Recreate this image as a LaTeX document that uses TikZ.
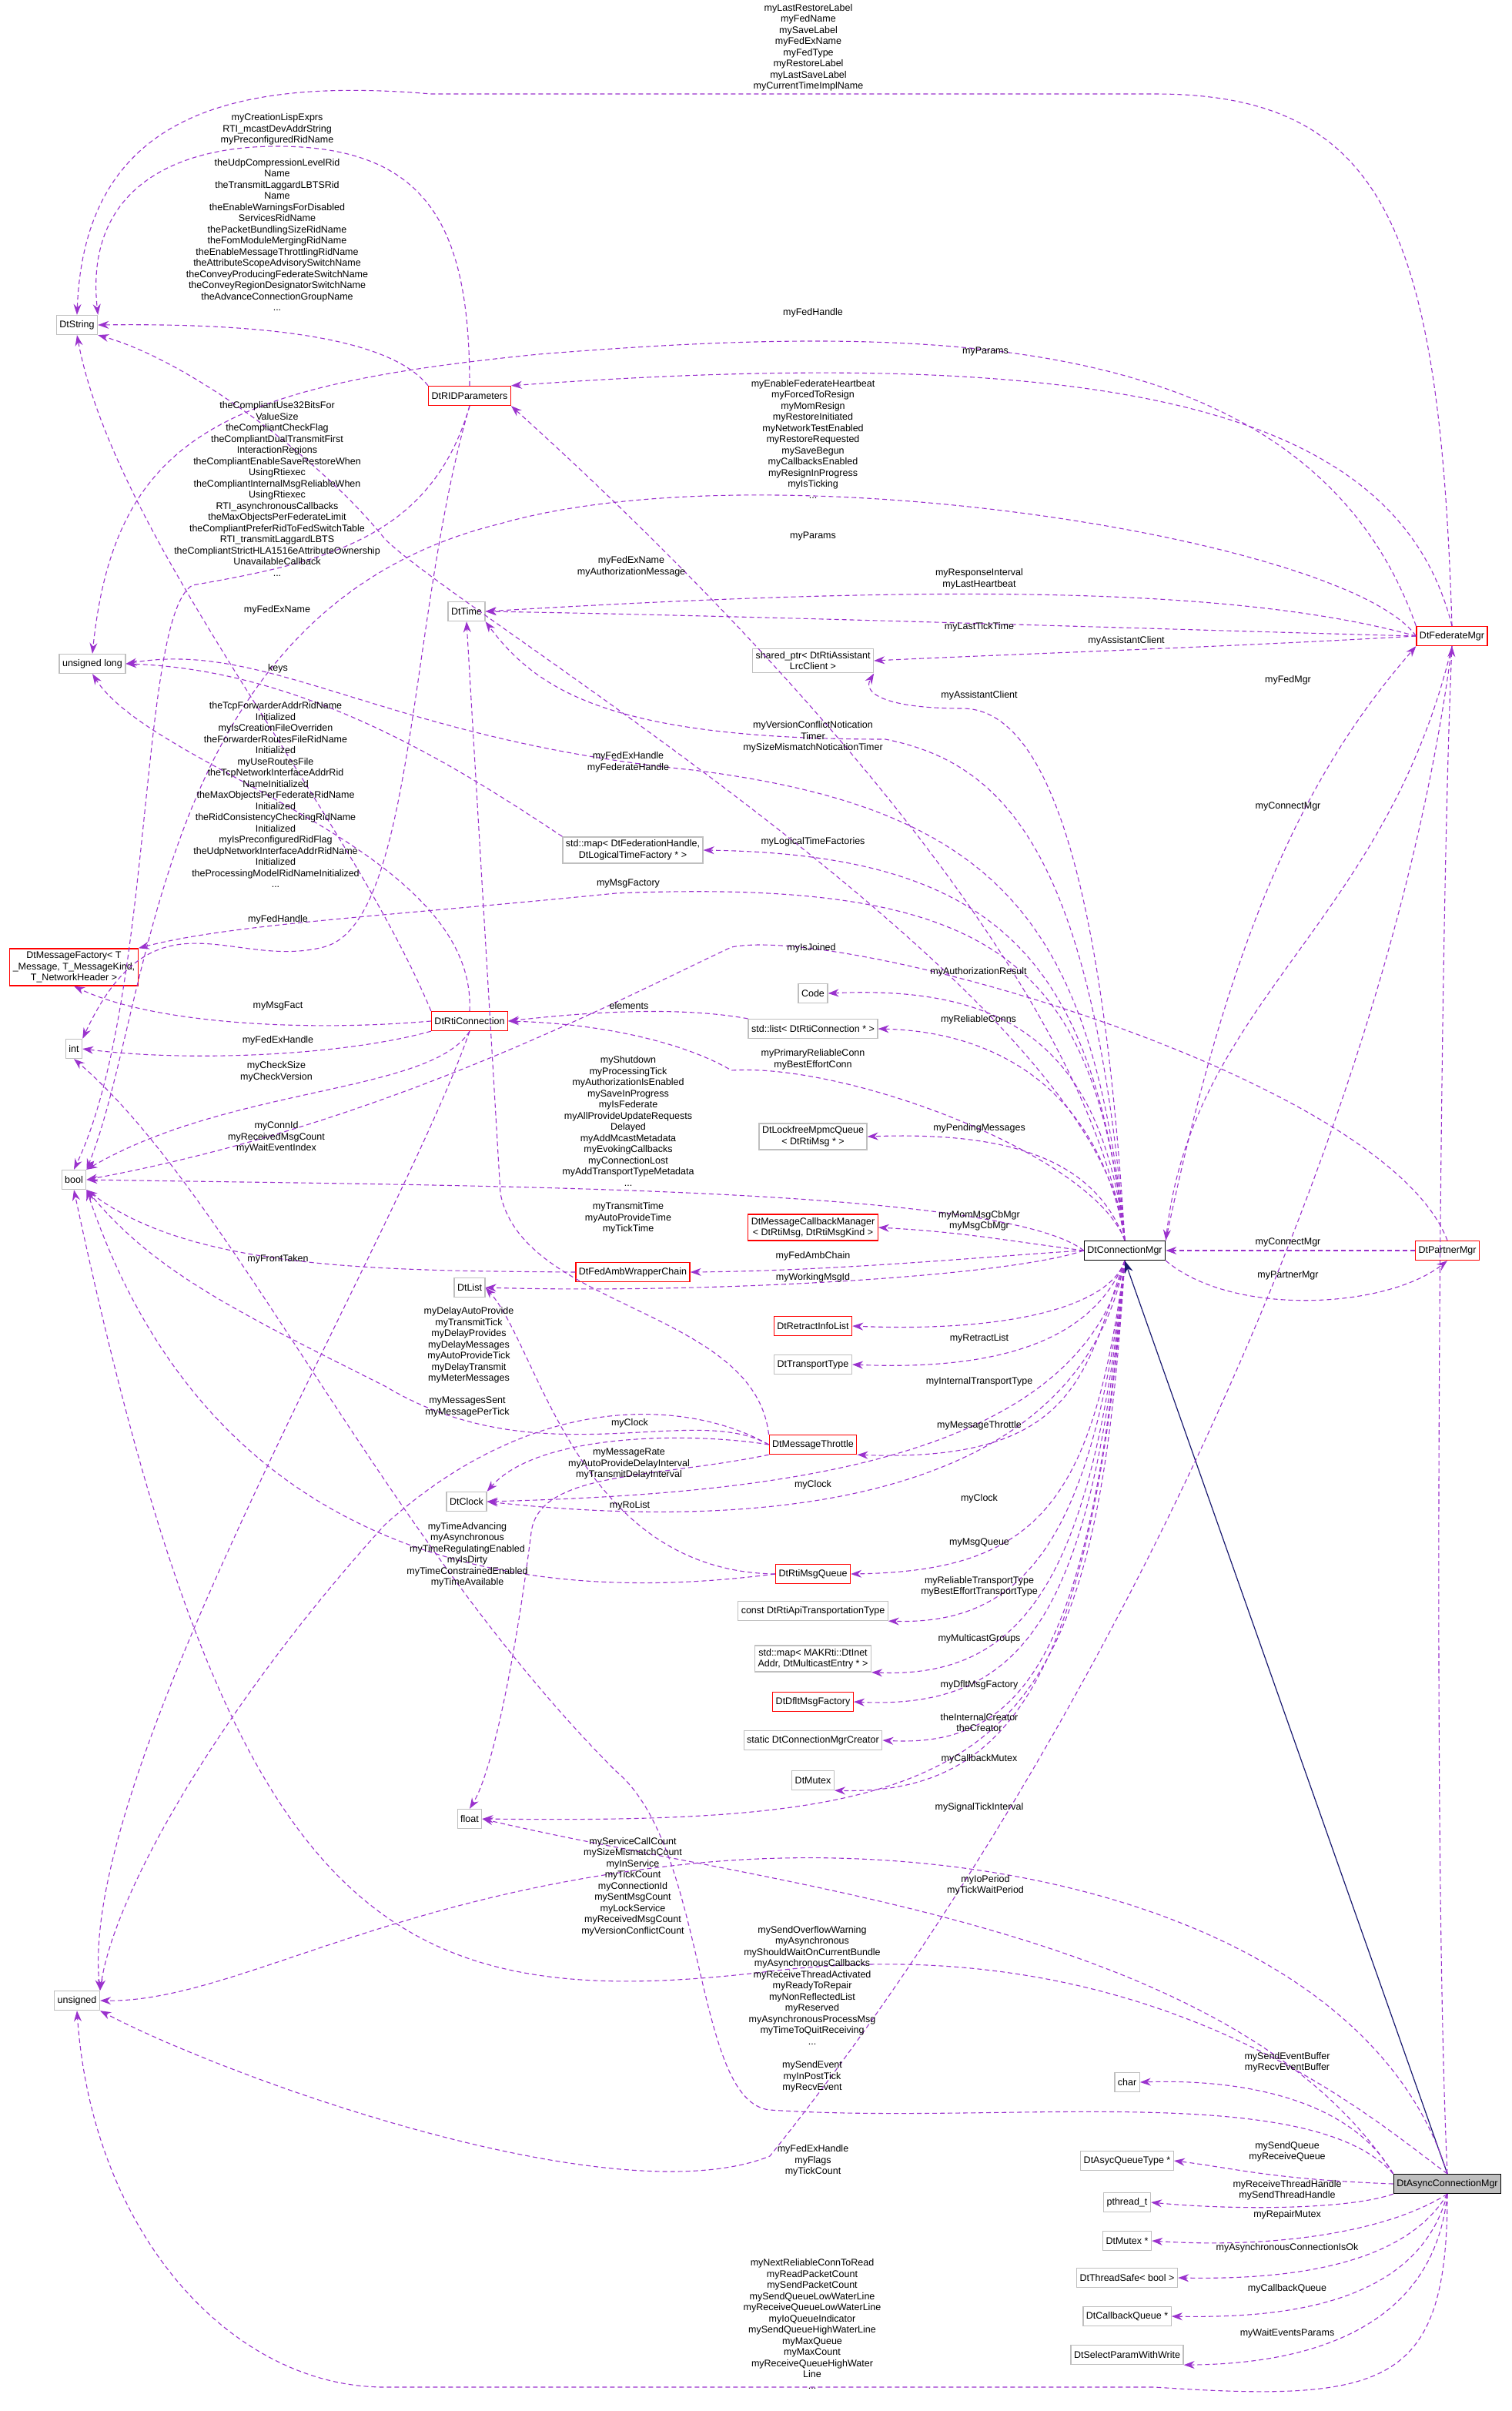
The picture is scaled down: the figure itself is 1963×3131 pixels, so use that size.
\documentclass[tikz,border=0pt]{standalone}
\usepackage{fontspec}
\setmainfont{Liberation Sans}
\usetikzlibrary{arrows.meta}
\definecolor{vio}{HTML}{9A32CD}
\definecolor{nav}{HTML}{191970}
\definecolor{gb}{HTML}{BFBFBF}
\begin{document}
\begin{tikzpicture}[x=1pt,y=-1pt,
 base/.style={draw, line width=1.3pt, font=\fontsize{12.5}{14.5}\selectfont, inner sep=4pt, minimum height=25pt, align=center, fill=white},
 box/.style={base, draw=gb},
 rbox/.style={base, draw=red},
 e/.style={draw=vio, dash pattern=on 6pt off 4pt, line width=1.1pt, -{Stealth[length=14pt,width=10pt]}},
 lab/.style={font=\fontsize{12.5}{14.5}\selectfont, align=center, inner sep=0pt}]
\useasboundingbox (0,0) rectangle (1963,3131);
% nodes
\node[box] (DtString) at (100,422) {DtString};
\node[rbox] (RID) at (610,514) {DtRIDParameters};
\node[box] (DtTime) at (606,794) {DtTime};
\node[box] (ulong) at (120,862) {unsigned long};
\node[box] (shptr) at (1056,858) {shared\_ptr< DtRtiAssistant\\LrcClient >};
\node[rbox] (FedMgr) at (1886,826) {DtFederateMgr};
\node[box] (mapFH) at (822,1104) {std::map< DtFederationHandle,\\DtLogicalTimeFactory * >};
\node[rbox] (MsgFac) at (96,1256) {DtMessageFactory< T\\\_Message, T\_MessageKind,\\T\_NetworkHeader >};
\node[box] (Code) at (1056,1290) {Code};
\node[box] (list) at (1056,1336) {std::list< DtRtiConnection * >};
\node[rbox] (RtiConn) at (610,1326) {DtRtiConnection};
\node[box] (int) at (96,1362) {int};
\node[box] (lockfree) at (1056,1476) {DtLockfreeMpmcQueue\\< DtRtiMsg * >};
\node[box] (bool) at (96,1532) {bool};
\node[rbox] (cbm) at (1056,1594) {DtMessageCallbackManager\\< DtRtiMsg, DtRtiMsgKind >};
\node[base, draw=black] (ConnMgr) at (1461,1624) {DtConnectionMgr};
\node[rbox] (Partner) at (1880,1624) {DtPartnerMgr};
\node[rbox] (FedAmb) at (822,1652) {DtFedAmbWrapperChain};
\node[box] (DtList) at (610,1672) {DtList};
\node[rbox] (Retract) at (1056,1722) {DtRetractInfoList};
\node[box] (Transport) at (1056,1772) {DtTransportType};
\node[rbox] (Throttle) at (1056,1876) {DtMessageThrottle};
\node[box] (Clock) at (606,1950) {DtClock};
\node[rbox] (MsgQueue) at (1056,2044) {DtRtiMsgQueue};
\node[box] (constApi) at (1056,2092) {const DtRtiApiTransportationType};
\node[box] (mapInet) at (1056,2154) {std::map< MAKRti::DtInet\\Addr, DtMulticastEntry * >};
\node[rbox] (Dflt) at (1056,2210) {DtDfltMsgFactory};
\node[box] (creator) at (1056,2260) {static DtConnectionMgrCreator};
\node[box] (mutex) at (1056,2312) {DtMutex};
\node[box] (float) at (610,2362) {float};
\node[box] (unsigned) at (100,2598) {unsigned};
\node[box] (char) at (1464,2704) {char};
\node[box] (asyq) at (1464,2806) {DtAsycQueueType *};
\node[base, draw=black, fill=gb] (Async) at (1880,2836) {DtAsyncConnectionMgr};
\node[box] (pthread) at (1464,2860) {pthread\_t};
\node[box] (mutexp) at (1464,2910) {DtMutex *};
\node[box] (tsafe) at (1464,2958) {DtThreadSafe< bool >};
\node[box] (cbq) at (1464,3008) {DtCallbackQueue *};
\node[box] (select) at (1464,3058) {DtSelectParamWithWrite};
% edges
\draw[e] (FedMgr.north) .. controls (1870,300) and (1800,122) .. (1500,122) -- (560,122) .. controls (300,100) and (110,150) .. (DtString.north);
\draw[e] (RID.north) .. controls (610,300) and (560,190) .. (360,190) .. controls (220,190) and (110,250) .. (DtString.north east);
\draw[e] (RID.north west) .. controls (500,430) and (300,420) .. (DtString.east);
\draw[e] (ConnMgr.north) .. controls (1440,1300) and (600,800) .. (500,700) .. controls (420,600) and (250,470) .. (DtString.south east);
\draw[e] (RtiConn.north west) .. controls (450,1050) and (150,700) .. (DtString.south);
\draw[e] (FedMgr.north west) .. controls (1700,420) and (1200,420) .. (700,460) .. controls (300,500) and (150,560) .. (ulong.north);
\draw[e] (FedMgr.north) .. controls (1820,550) and (1500,440) .. (RID.north east);
\draw[e] (ConnMgr.north) .. controls (1400,1200) and (800,650) .. (RID.south east);
\draw[e] (FedMgr.west) .. controls (1750,700) and (1000,580) .. (650,680) .. controls (200,790) and (200,1300) .. (bool.north east);
\draw[e] (RID.south) .. controls (560,700) and (420,730) .. (250,760) .. controls (180,800) and (200,1300) .. (bool.north);
\draw[e] (RID.south) .. controls (530,800) and (540,1200) .. (420,1230) .. controls (300,1260) and (200,1150) .. (int.north east);
\draw[e] (FedMgr.west) .. controls (1600,760) and (1200,760) .. (DtTime.east);
\draw[e] (FedMgr.west) .. controls (1600,820) and (1000,800) .. (DtTime.east);
\draw[e] (FedMgr.west) .. controls (1600,840) and (1300,850) .. (shptr.east);
\draw[e] (ConnMgr.north) .. controls (1430,1100) and (1350,920) .. (1250,920) .. controls (1150,920) and (1120,900) .. (shptr.south east);
\draw[e] (ConnMgr.north) .. controls (1420,1100) and (1300,990) .. (1150,960) .. controls (800,960) and (700,900) .. (DtTime.south east);
\draw[e] (Throttle.north west) .. controls (980,1700) and (680,1700) .. (650,1550) -- (DtTime.south);
\draw[e] (ConnMgr.north) .. controls (1420,1200) and (1300,1050) .. (900,1000) .. controls (500,960) and (350,830) .. (ulong.east);
\draw[e] (mapFH.north west) .. controls (600,1000) and (400,870) .. (ulong.east);
\draw[e] (ConnMgr.north) .. controls (1420,1250) and (1300,1110) .. (mapFH.east);
\draw[e] (ConnMgr.north) .. controls (1420,1250) and (1300,1140) .. (800,1160) .. controls (500,1190) and (300,1200) .. (MsgFac.north east);
\draw[e] (RtiConn.west) .. controls (400,1340) and (200,1330) .. (MsgFac.south);
\draw[e] (RtiConn.south west) .. controls (450,1370) and (250,1380) .. (int.east);
\draw[e] (RtiConn.south) .. controls (560,1420) and (300,1410) .. (bool.north east);
\draw[e] (RtiConn.south) .. controls (520,1600) and (100,2300) .. (unsigned.north east);
\draw[e] (RtiConn.north) .. controls (620,1100) and (200,1000) .. (ulong.south);
\draw[e] (Partner.north) .. controls (1800,1400) and (1100,1200) .. (950,1230) .. controls (800,1300) and (500,1460) .. (bool.east);
\draw[e] (ConnMgr.north) .. controls (1430,1350) and (1300,1280) .. (Code.east);
\draw[e] (list.north west) .. controls (900,1310) and (800,1310) .. (RtiConn.east);
\draw[e] (ConnMgr.north) .. controls (1430,1420) and (1300,1340) .. (list.east);
\draw[e] (ConnMgr.north) .. controls (1420,1500) and (1100,1380) .. (950,1390) .. controls (900,1360) and (800,1330) .. (RtiConn.east);
\draw[e] (ConnMgr.north) .. controls (1420,1500) and (1300,1470) .. (lockfree.east);
\draw[e] (ConnMgr.west) .. controls (1300,1540) and (600,1540) .. (bool.east);
\draw[e] (ConnMgr.west) .. controls (1300,1610) and (1250,1600) .. (cbm.east);
\draw[e] (ConnMgr.west) .. controls (1300,1630) and (1100,1650) .. (FedAmb.east);
\draw[e] (FedAmb.west) .. controls (500,1650) and (250,1650) .. (bool.south east);
\draw[e] (ConnMgr.west) .. controls (1300,1660) and (900,1680) .. (DtList.east);
\draw[e] (ConnMgr.south) .. controls (1440,1700) and (1300,1730) .. (Retract.east);
\draw[e] (ConnMgr.south) .. controls (1420,1740) and (1300,1780) .. (Transport.east);
\draw[e] (ConnMgr.south) .. controls (1410,1780) and (1400,1900) .. (Throttle.south east);
\draw[e] (Throttle.west) .. controls (900,1820) and (700,1920) .. (500,1800) .. controls (300,1700) and (200,1650) .. (bool.south east);
\draw[e] (Throttle.west) .. controls (900,1820) and (700,1800) .. (500,1980) .. controls (300,2200) and (150,2450) .. (unsigned.north east);
\draw[e] (Throttle.west) .. controls (900,1860) and (700,1860) .. (Clock.north east);
\draw[e] (Throttle.south west) .. controls (850,1920) and (700,1910) .. (690,1990) .. controls (670,2150) and (640,2300) .. (float.north);
\draw[e] (ConnMgr.south) .. controls (1400,1900) and (1000,1940) .. (Clock.east);
\draw[e] (ConnMgr.south) .. controls (1400,1950) and (1000,1990) .. (Clock.east);
\draw[e] (MsgQueue.west) .. controls (750,2040) and (700,1750) .. (DtList.east);
\draw[e] (MsgQueue.west) .. controls (800,2070) and (300,2100) .. (bool.south east);
\draw[e] (ConnMgr.south) .. controls (1420,1950) and (1350,2040) .. (MsgQueue.east);
\draw[e] (ConnMgr.south) .. controls (1420,2000) and (1330,2110) .. (constApi.south east);
\draw[e] (ConnMgr.south) .. controls (1420,2050) and (1330,2180) .. (mapInet.south east);
\draw[e] (ConnMgr.south) .. controls (1420,2100) and (1330,2220) .. (Dflt.east);
\draw[e] (ConnMgr.south) .. controls (1420,2150) and (1330,2270) .. (creator.east);
\draw[e] (ConnMgr.south) .. controls (1420,2200) and (1300,2330) .. (mutex.south east);
\draw[e] (ConnMgr.south) .. controls (1420,2300) and (1300,2370) .. (float.east);
\draw[e] (ConnMgr.north east) .. controls (1600,1200) and (1700,1000) .. (FedMgr.south west);
\draw[e] (FedMgr.south) .. controls (1800,1200) and (1550,1300) .. (ConnMgr.north east);
\draw[e] (Partner.west) -- (ConnMgr.east);
\draw[e] (ConnMgr.south east) .. controls (1600,1710) and (1800,1700) .. (Partner.south);
\draw[-{Stealth[length=16pt, width=11pt]}, draw=nav, line width=1.2pt] (Async.north) -- (ConnMgr.south);
\draw[e] (Async.north) .. controls (1860,2400) and (1870,1200) .. (FedMgr.south);
\draw[e] (Async.north west) .. controls (1600,2500) and (1000,2450) .. (float.east);
\draw[e] (Async.north) .. controls (1780,2500) and (1300,2380) .. (900,2420) .. controls (500,2460) and (300,2600) .. (unsigned.east);
\draw[e] (Async.north) .. controls (1780,2750) and (1500,2500) .. (1000,2560) .. controls (500,2620) and (300,2500) .. (bool.south);
\draw[e] (Async.north west) .. controls (1700,2700) and (1300,2760) .. (1000,2740) .. controls (900,2730) and (920,2400) .. (800,2300) .. controls (500,2000) and (300,1550) .. (int.south);
\draw[e] (FedMgr.south) .. controls (1800,1500) and (1400,2300) .. (1000,2800) .. controls (800,2880) and (300,2700) .. (unsigned.south east);
\draw[e] (Async.north west) .. controls (1750,2720) and (1600,2700) .. (char.east);
\draw[e] (Async.west) .. controls (1650,2830) and (1600,2815) .. (asyq.east);
\draw[e] (Async.south west) .. controls (1750,2870) and (1600,2870) .. (pthread.east);
\draw[e] (Async.south) .. controls (1800,2900) and (1650,2920) .. (mutexp.east);
\draw[e] (Async.south) .. controls (1820,2950) and (1650,2960) .. (tsafe.east);
\draw[e] (Async.south) .. controls (1840,3000) and (1650,3010) .. (cbq.east);
\draw[e] (Async.south) .. controls (1860,3050) and (1650,3070) .. (select.south east);
\draw[e] (Async.south) .. controls (1880,3100) and (1800,3120) .. (1500,3100) -- (500,3100) .. controls (300,3100) and (120,2900) .. (unsigned.south);
% labels
\node[lab] at (1050,62) {myLastRestoreLabel\\myFedName\\mySaveLabel\\myFedExName\\myFedType\\myRestoreLabel\\myLastSaveLabel\\myCurrentTimeImplName};
\node[lab] at (360,168) {myCreationLispExprs\\RTI\_mcastDevAddrString\\myPreconfiguredRidName};
\node[lab] at (360,305) {theUdpCompressionLevelRid\\Name\\theTransmitLaggardLBTSRid\\Name\\theEnableWarningsForDisabled\\ServicesRidName\\thePacketBundlingSizeRidName\\theFomModuleMergingRidName\\theEnableMessageThrottlingRidName\\theAttributeScopeAdvisorySwitchName\\theConveyProducingFederateSwitchName\\theConveyRegionDesignatorSwitchName\\theAdvanceConnectionGroupName\\...};
\node[lab] at (1056,406) {myFedHandle};
\node[lab] at (1280,456) {myParams};
\node[lab] at (1056,570) {myEnableFederateHeartbeat\\myForcedToResign\\myMomResign\\myRestoreInitiated\\myNetworkTestEnabled\\myRestoreRequested\\mySaveBegun\\myCallbacksEnabled\\myResignInProgress\\myIsTicking\\...};
\node[lab] at (360,635) {theCompliantUse32BitsFor\\ValueSize\\theCompliantCheckFlag\\theCompliantDualTransmitFirst\\InteractionRegions\\theCompliantEnableSaveRestoreWhen\\UsingRtiexec\\theCompliantInternalMsgReliableWhen\\UsingRtiexec\\RTI\_asynchronousCallbacks\\theMaxObjectsPerFederateLimit\\theCompliantPreferRidToFedSwitchTable\\RTI\_transmitLaggardLBTS\\theCompliantStrictHLA1516eAttributeOwnership\\UnavailableCallback\\...};
\node[lab] at (1056,696) {myParams};
\node[lab] at (820,736) {myFedExName\\myAuthorizationMessage};
\node[lab] at (1272,752) {myResponseInterval\\myLastHeartbeat};
\node[lab] at (360,792) {myFedExName};
\node[lab] at (1272,814) {myLastTickTime};
\node[lab] at (1463,832) {myAssistantClient};
\node[lab] at (1673,883) {myFedMgr};
\node[lab] at (1272,903) {myAssistantClient};
\node[lab] at (1056,957) {myVersionConflictNotication\\Timer\\mySizeMismatchNoticationTimer};
\node[lab] at (816,990) {myFedExHandle\\myFederateHandle};
\node[lab] at (1673,1047) {myConnectMgr};
\node[lab] at (361,868) {keys};
\node[lab] at (358,1032) {theTcpForwarderAddrRidName\\Initialized\\myIsCreationFileOverriden\\theForwarderRoutesFileRidName\\Initialized\\myUseRoutesFile\\theTcpNetworkInterfaceAddrRid\\NameInitialized\\theMaxObjectsPerFederateRidName\\Initialized\\theRidConsistencyCheckingRidName\\Initialized\\myIsPreconfiguredRidFlag\\theUdpNetworkInterfaceAddrRidName\\Initialized\\theProcessingModelRidNameInitialized\\...};
\node[lab] at (1056,1093) {myLogicalTimeFactories};
\node[lab] at (816,1147) {myMsgFactory};
\node[lab] at (361,1194) {myFedHandle};
\node[lab] at (1054,1231) {myIsJoined};
\node[lab] at (1271,1262) {myAuthorizationResult};
\node[lab] at (817,1306) {elements};
\node[lab] at (361,1306) {myMsgFact};
\node[lab] at (1271,1324) {myReliableConns};
\node[lab] at (361,1351) {myFedExHandle};
\node[lab] at (1056,1376) {myPrimaryReliableConn\\myBestEffortConn};
\node[lab] at (359,1392) {myCheckSize\\myCheckVersion};
\node[lab] at (816,1456) {myShutdown\\myProcessingTick\\myAuthorizationIsEnabled\\mySaveInProgress\\myIsFederate\\myAllProvideUpdateRequests\\Delayed\\myAddMcastMetadata\\myEvokingCallbacks\\myConnectionLost\\myAddTransportTypeMetadata\\...};
\node[lab] at (359,1477) {myConnId\\myReceivedMsgCount\\myWaitEventIndex};
\node[lab] at (1272,1465) {myPendingMessages};
\node[lab] at (816,1582) {myTransmitTime\\myAutoProvideTime\\myTickTime};
\node[lab] at (1272,1585) {myMomMsgCbMgr\\myMsgCbMgr};
\node[lab] at (361,1635) {myFrontTaken};
\node[lab] at (1056,1631) {myFedAmbChain};
\node[lab] at (1056,1659) {myWorkingMsgId};
\node[lab] at (1673,1613) {myConnectMgr};
\node[lab] at (1673,1656) {myPartnerMgr};
\node[lab] at (609,1747) {myDelayAutoProvide\\myTransmitTick\\myDelayProvides\\myDelayMessages\\myAutoProvideTick\\myDelayTransmit\\myMeterMessages};
\node[lab] at (607,1827) {myMessagesSent\\myMessagePerTick};
\node[lab] at (1272,1738) {myRetractList};
\node[lab] at (1272,1794) {myInternalTransportType};
\node[lab] at (1272,1851) {myMessageThrottle};
\node[lab] at (818,1848) {myClock};
\node[lab] at (817,1901) {myMessageRate\\myAutoProvideDelayInterval\\myTransmitDelayInterval};
\node[lab] at (1056,1928) {myClock};
\node[lab] at (1272,1946) {myClock};
\node[lab] at (818,1955) {myRoList};
\node[lab] at (607,2019) {myTimeAdvancing\\myAsynchronous\\myTimeRegulatingEnabled\\myIsDirty\\myTimeConstrainedEnabled\\myTimeAvailable};
\node[lab] at (1272,2003) {myMsgQueue};
\node[lab] at (1272,2060) {myReliableTransportType\\myBestEffortTransportType};
\node[lab] at (1272,2128) {myMulticastGroups};
\node[lab] at (1272,2188) {myDfltMsgFactory};
\node[lab] at (1272,2237) {theInternalCreator\\theCreator};
\node[lab] at (1272,2284) {myCallbackMutex};
\node[lab] at (1272,2347) {mySignalTickInterval};
\node[lab] at (822,2450) {myServiceCallCount\\mySizeMismatchCount\\myInService\\myTickCount\\myConnectionId\\mySentMsgCount\\myLockService\\myReceivedMsgCount\\myVersionConflictCount};
\node[lab] at (1280,2448) {myIoPeriod\\myTickWaitPeriod};
\node[lab] at (1055,2578) {mySendOverflowWarning\\myAsynchronous\\myShouldWaitOnCurrentBundle\\myAsynchronousCallbacks\\myReceiveThreadActivated\\myReadyToRepair\\myNonReflectedList\\myReserved\\myAsynchronousProcessMsg\\myTimeToQuitReceiving\\...};
\node[lab] at (1055,2697) {mySendEvent\\myInPostTick\\myRecvEvent};
\node[lab] at (1672,2678) {mySendEventBuffer\\myRecvEventBuffer};
\node[lab] at (1056,2806) {myFedExHandle\\myFlags\\myTickCount};
\node[lab] at (1672,2794) {mySendQueue\\myReceiveQueue};
\node[lab] at (1672,2844) {myReceiveThreadHandle\\mySendThreadHandle};
\node[lab] at (1672,2876) {myRepairMutex};
\node[lab] at (1672,2919) {myAsynchronousConnectionIsOk};
\node[lab] at (1672,2972) {myCallbackQueue};
\node[lab] at (1672,3030) {myWaitEventsParams};
\node[lab] at (1055,3018) {myNextReliableConnToRead\\myReadPacketCount\\mySendPacketCount\\mySendQueueLowWaterLine\\myReceiveQueueLowWaterLine\\myIoQueueIndicator\\mySendQueueHighWaterLine\\myMaxQueue\\myMaxCount\\myReceiveQueueHighWater\\Line\\...};
\end{tikzpicture}
\end{document}
